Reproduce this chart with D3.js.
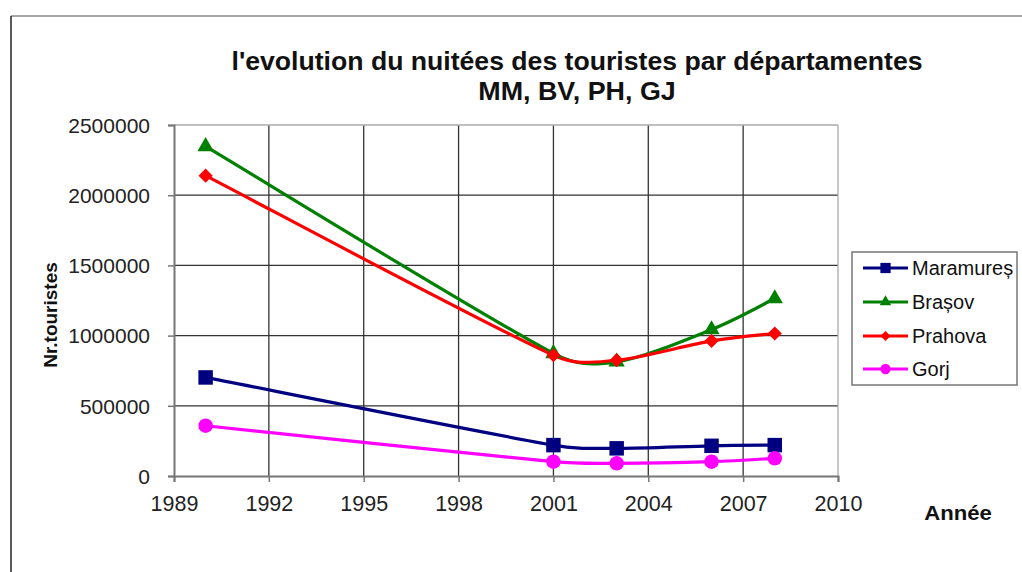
<!DOCTYPE html>
<html>
<head>
<meta charset="utf-8">
<script src="https://cdn.jsdelivr.net/npm/d3@7"></script>
<style>
  html, body { margin: 0; padding: 0; background: #fff; }
  svg { display: block; font-family: "Liberation Sans", Arial, sans-serif; }
</style>
</head>
<body>
<svg id="chart" width="1022" height="572"></svg>
<script>
// ---- data ----
const years = [1990, 2001, 2003, 2006, 2008];
const maramures = [702000, 220000, 197000, 215000, 220000];
const brasov = [2347000, 873000, 813000, 1043000, 1264000];
const prahova = [2139000, 860000, 825000, 962000, 1015000];
const gorj = [358000, 102000, 90000, 102000, 126000];
const seriesNames = ["Maramureș", "Brașov", "Prahova", "Gorj"];
const xTicks = [1989, 1992, 1995, 1998, 2001, 2004, 2007, 2010];
const yTicks = [0, 500000, 1000000, 1500000, 2000000, 2500000];
const titleLines = ["l'evolution du nuitées des touristes par départamentes", "MM, BV, PH, GJ"];
const yLabel = "Nr.touristes";
const xLabel = "Année";

const seriesValues = [maramures, brasov, prahova, gorj];
const colors = ["#000080", "#008000", "#FF0000", "#FF00FF"];
const symbols = [d3.symbolSquare, d3.symbolTriangle, d3.symbolSquare, d3.symbolCircle];
const symRot = [0, 0, 45, 0];
const symSizes = [210, 115, 100, 165];

const svg = d3.select("#chart");

// chart frame
svg.append("line").attr("x1", 11).attr("y1", 16).attr("x2", 1022).attr("y2", 16)
  .attr("stroke", "#8a8a8a").attr("stroke-width", 1.5);
svg.append("line").attr("x1", 11).attr("y1", 16).attr("x2", 11).attr("y2", 572)
  .attr("stroke", "#222").attr("stroke-width", 1.5);

const L = 174, R = 838, T = 125, B = 476;
const x = d3.scaleLinear().domain([1989, 2010]).range([L, R]);
const y = d3.scaleLinear().domain([0, 2500000]).range([B, T]);

// grid
const g = svg.append("g");
g.selectAll(".vg").data(xTicks.slice(1, -1)).join("line")
  .attr("x1", d => x(d)).attr("x2", d => x(d)).attr("y1", T).attr("y2", B)
  .attr("stroke", "#333").attr("stroke-width", 1.3);
g.selectAll(".hg").data(yTicks.slice(1, -1)).join("line")
  .attr("x1", L).attr("x2", R).attr("y1", d => y(d)).attr("y2", d => y(d))
  .attr("stroke", "#333").attr("stroke-width", 1.3);
g.append("line").attr("x1", L).attr("x2", R).attr("y1", T).attr("y2", T).attr("stroke", "#aaa").attr("stroke-width", 1.3);
g.append("line").attr("x1", R).attr("x2", R).attr("y1", T).attr("y2", B).attr("stroke", "#aaa").attr("stroke-width", 1.3);

// axes
const xAxis = svg.append("g").attr("transform", `translate(0,${B})`)
  .call(d3.axisBottom(x).tickValues(xTicks).tickFormat(d3.format("d")).tickSize(6).tickPadding(14));
const yAxis = svg.append("g").attr("transform", `translate(${L},0)`)
  .call(d3.axisLeft(y).tickValues(yTicks).tickFormat(d3.format("d")).tickSize(6).tickPadding(18));
[xAxis, yAxis].forEach(a => {
  a.select(".domain").attr("stroke", "#777").attr("stroke-width", 2);
  a.selectAll(".tick line").attr("stroke", "#777").attr("stroke-width", 1.5);
  a.selectAll("text").attr("font-size", 21).attr("fill", "#222")
    .attr("font-family", "Liberation Sans, Arial, sans-serif");
});
xAxis.selectAll("text").attr("dy", "0.71em").attr("font-size", 21.5);
yAxis.selectAll("text").attr("dy", "0.35em");

// Excel-like smoothed line: Catmull-Rom tangents, control arms capped by segment length
function smoothPath(pts) {
  const p = d3.path();
  p.moveTo(pts[0][0], pts[0][1]);
  const cap = 0.4;
  for (let i = 0; i < pts.length - 1; i++) {
    const P0 = pts[i - 1] || pts[i], P1 = pts[i], P2 = pts[i + 1], P3 = pts[i + 2] || pts[i + 1];
    const d = Math.hypot(P2[0] - P1[0], P2[1] - P1[1]);
    let t1 = [(P2[0] - P0[0]) / 6, (P2[1] - P0[1]) / 6];
    let t2 = [(P3[0] - P1[0]) / 6, (P3[1] - P1[1]) / 6];
    [t1, t2].forEach(t => {
      const len = Math.hypot(t[0], t[1]);
      if (len > cap * d) { t[0] *= cap * d / len; t[1] *= cap * d / len; }
    });
    p.bezierCurveTo(P1[0] + t1[0], P1[1] + t1[1], P2[0] - t2[0], P2[1] - t2[1], P2[0], P2[1]);
  }
  return p.toString();
}

seriesValues.forEach((vals, i) => {
  const pts = years.map((yr, j) => [x(yr), y(vals[j])]);
  svg.append("path").attr("d", smoothPath(pts))
    .attr("fill", "none").attr("stroke", colors[i]).attr("stroke-width", 3.2);
});
seriesValues.forEach((vals, i) => {
  const pts = years.map((yr, j) => [yr, vals[j]]);
  svg.selectAll(null).data(pts).join("path")
    .attr("transform", d => `translate(${x(d[0])},${y(d[1])}) rotate(${symRot[i]})`)
    .attr("d", d3.symbol().type(symbols[i]).size(symSizes[i]))
    .attr("fill", colors[i]);
});

// stretched text helper
function stext(sel, tx, ty, sx) {
  return sel.append("text").attr("transform", `translate(${tx},${ty}) scale(${sx},1)`);
}

// title
stext(svg, 577, 70, 1.065).attr("text-anchor", "middle")
  .attr("font-size", 25).attr("font-weight", "bold").attr("fill", "#111").text(titleLines[0]);
stext(svg, 577, 100, 1.075).attr("text-anchor", "middle")
  .attr("font-size", 25).attr("font-weight", "bold").attr("fill", "#111").text(titleLines[1]);

// axis titles
svg.append("text").attr("transform", "translate(57,315) rotate(-90)").attr("text-anchor", "middle")
  .attr("font-size", 19).attr("font-weight", "bold").attr("fill", "#111").text(yLabel);
stext(svg, 958, 520, 1.08).attr("text-anchor", "middle")
  .attr("font-size", 20.5).attr("font-weight", "bold").attr("fill", "#111").text(xLabel);

// legend
const lg = svg.append("g");
lg.append("rect").attr("x", 852).attr("y", 252).attr("width", 165).attr("height", 133)
  .attr("fill", "#fff").attr("stroke", "#777").attr("stroke-width", 1.5);
const ly = [268, 302, 336, 369];
seriesNames.forEach((name, i) => {
  lg.append("line").attr("x1", 863).attr("x2", 908).attr("y1", ly[i]).attr("y2", ly[i])
    .attr("stroke", colors[i]).attr("stroke-width", 3);
  lg.append("path").attr("transform", `translate(885.5,${ly[i]}) rotate(${symRot[i]})`)
    .attr("d", d3.symbol().type(symbols[i]).size(symSizes[i] * 0.5)).attr("fill", colors[i]);
  lg.append("text").attr("x", 912).attr("y", ly[i]).attr("dy", "0.35em")
    .attr("font-size", 20).attr("fill", "#111").text(name);
});
</script>
</body>
</html>
